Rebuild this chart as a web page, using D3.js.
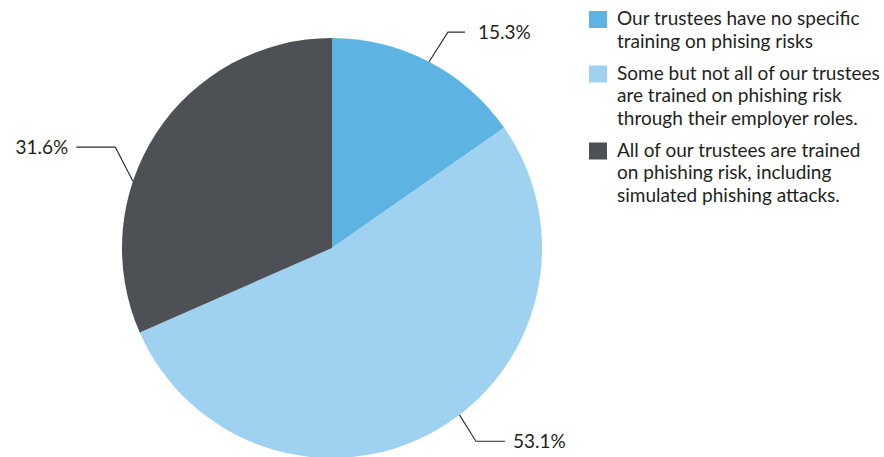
<!DOCTYPE html>
<html>
<head>
<meta charset="utf-8">
<script src="https://cdn.jsdelivr.net/npm/d3@7"></script>
<style>
  html, body { margin: 0; padding: 0; background: #fff; }
  svg { display: block; font-family: Lato, "Open Sans", sans-serif; }
</style>
</head>
<body>
<svg id="chart" width="884" height="457"></svg>
<script>
// Survey responses on trustee phishing-risk training (share of respondents, %)
const categories = [
  ["Our trustees have no specific", "training on phising risks"],
  ["Some but not all of our trustees", "are trained on phishing risk", "through their employer roles."],
  ["All of our trustees are trained", "on phishing risk, including", "simulated phishing attacks."]
];
const values = [15.3, 53.1, 31.6];
const valueLabels = ["15.3%", "53.1%", "31.6%"];
const colors = ["#5db4e2", "#9fd1f0", "#4d5055"];

// Leader-line layout per slice: where on the slice the line leaves the rim (t = fraction
// of the slice's sweep), the elbow's radius and angular nudge, the horizontal tail and
// the gap before the label.
const leaderLayout = [
  { t: 0.50, elbowR: 245, nudge: 0.7, tail: 17, gap: 13, side: 1 },
  { t: 0.458, elbowR: 241, nudge: 0.7, tail: 29, gap: 8, side: 1 },
  { t: 0.372, elbowR: 239, nudge: 6.4, tail: 39, gap: 8, side: -1 }
];

const svg = d3.select("#chart");
const cx = 332, cy = 248, r = 210;
const deg = Math.PI / 180;

const pie = d3.pie().sort(null).value(d => d)(values);
const arc = d3.arc().innerRadius(0).outerRadius(r);

const g = svg.append("g").attr("transform", `translate(${cx},${cy})`);

g.selectAll("path.slice")
  .data(pie)
  .join("path")
  .attr("class", "slice")
  .attr("d", arc)
  .attr("fill", (d, i) => colors[i]);

// polar helper: angle measured clockwise from 12 o'clock
const polar = (a, rad) => [Math.sin(a) * rad, -Math.cos(a) * rad];

pie.forEach((d, i) => {
  const L = leaderLayout[i];
  const a0 = d.startAngle + (d.endAngle - d.startAngle) * L.t;
  const p0 = polar(a0, r);
  const p1 = polar(a0 + L.nudge * deg, L.elbowR);
  const p2 = [p1[0] + L.side * L.tail, p1[1]];
  g.append("path")
    .attr("d", d3.line()([p0, p1, p2]))
    .attr("fill", "none")
    .attr("stroke", "#2b2b2b")
    .attr("stroke-width", 1.1);
  g.append("text")
    .attr("x", p2[0] + L.side * L.gap)
    .attr("y", p2[1])
    .attr("dy", "0.36em")
    .attr("text-anchor", L.side > 0 ? "start" : "end")
    .attr("font-size", 19)
    .attr("fill", "#231f20")
    .text(valueLabels[i]);
});

// Legend
const legend = svg.append("g").attr("transform", "translate(589,0)");
const lineH = 22.5;
let y = 25;
categories.forEach((lines, i) => {
  legend.append("rect")
    .attr("x", 0).attr("y", y - 14)
    .attr("width", 18).attr("height", 17)
    .attr("fill", colors[i]);
  const t = legend.append("text")
    .attr("x", 28).attr("y", y)
    .attr("font-size", 19)
    .attr("fill", "#231f20");
  lines.forEach((ln, j) => {
    t.append("tspan").attr("x", 28).attr("y", y + j * lineH).text(ln);
  });
  y += (lines.length - 1) * lineH + 32;
});
</script>
</body>
</html>
